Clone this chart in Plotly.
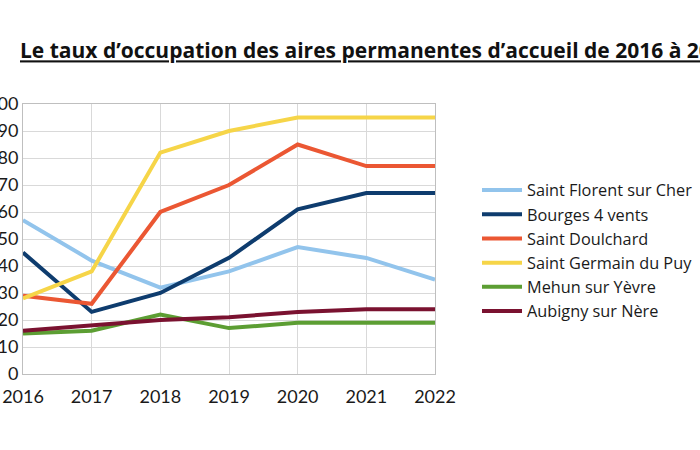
import plotly.graph_objects as go

years = [2016, 2017, 2018, 2019, 2020, 2021, 2022]
series_names = [
    "Saint Florent sur Cher",
    "Bourges 4 vents",
    "Saint Doulchard",
    "Saint Germain du Puy",
    "Mehun sur Yèvre",
    "Aubigny sur Nère",
]
saint_florent = [57, 42, 32, 38, 47, 43, 35]
bourges = [45, 23, 30, 43, 61, 67, 67]
saint_doulchard = [29, 26, 60, 70, 85, 77, 77]
saint_germain = [28, 38, 82, 90, 95, 95, 95]
mehun = [15, 16, 22, 17, 19, 19, 19]
aubigny = [16, 18, 20, 21, 23, 24, 24]
y_ticks = [0, 10, 20, 30, 40, 50, 60, 70, 80, 90, 100]

values = [saint_florent, bourges, saint_doulchard, saint_germain, mehun, aubigny]
colors = ["#92C4EC", "#0E3C6E", "#EB5733", "#F6D548", "#5C9E33", "#7A1230"]

FONT = "Lato, 'Open Sans', sans-serif"

fig = go.Figure()
for name, vals, col in zip(series_names, values, colors):
    fig.add_trace(go.Scatter(
        x=years, y=vals, mode="lines", name=name,
        line=dict(color=col, width=4),
    ))

fig.update_layout(
    width=700, height=450,
    paper_bgcolor="white", plot_bgcolor="white",
    margin=dict(l=23, r=700 - 435, t=104, b=450 - 374),
    font=dict(family=FONT, size=17, color="#1a1a1a"),
    title=dict(
        text="<u>Le taux d’occupation des aires permanentes d’accueil de 2016 à 2022</u>",
        font=dict(family="'Open Sans', sans-serif", size=21, color="#111111", weight="bold"),
        xref="container", x=20/700, xanchor="left",
        yref="container", y=1-51/450, yanchor="middle",
    ),
    legend=dict(
        xref="container", yref="container",
        x=477/700, y=1-173/450, xanchor="left", yanchor="top",
        font=dict(family="'Open Sans', sans-serif", size=16.3, color="#1a1a1a"),
        tracegroupgap=0, itemwidth=40,
        bgcolor="rgba(0,0,0,0)",
    ),
    showlegend=True,
)
fig.update_xaxes(
    range=[2016, 2022], tickmode="array", tickvals=years,
    ticktext=[str(y) for y in years],
    showgrid=True, gridcolor="#d9d9d9", gridwidth=1,
    showline=True, linecolor="#bfbfbf", linewidth=1, mirror=True,
    zeroline=False, ticks="", automargin=False,
    tickfont=dict(size=18), ticklabelstandoff=6,
)
fig.update_yaxes(
    range=[0, 100], tickmode="array", tickvals=y_ticks,
    showgrid=True, gridcolor="#d9d9d9", gridwidth=1,
    showline=True, linecolor="#bfbfbf", linewidth=1, mirror=True,
    zeroline=False, ticks="", automargin=False,
    tickfont=dict(size=18),
)

fig.write_html("out.html", config={"displayModeBar": False},
               post_script="document.body.style.margin='0px';")
